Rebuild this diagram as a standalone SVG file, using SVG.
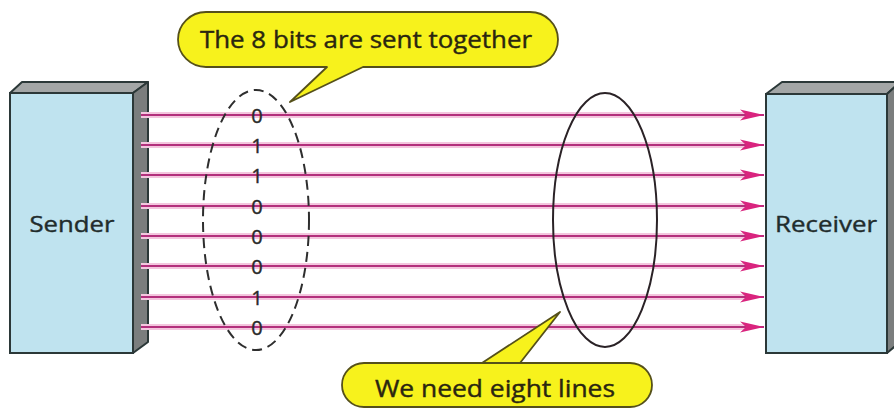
<svg xmlns="http://www.w3.org/2000/svg" width="894" height="412" viewBox="0 0 894 412">
<style>
.front{fill:#bfe3ef;stroke:#2b3838;stroke-width:2}
.top{fill:#a3a6a6;stroke:#2b3838;stroke-width:2;stroke-linejoin:round}
.side{fill:#7b7e7e;stroke:#2b3838;stroke-width:2;stroke-linejoin:round}
.lbl{font-family:"Open Sans","Liberation Sans",sans-serif;font-size:22px;fill:#1f2c2c;text-anchor:middle;stroke:#1f2c2c;stroke-width:0.4}
.glow{stroke:#f4c6de;stroke-width:6;fill:none}
.wire{stroke:#b3307c;stroke-width:2;fill:none}
.bit{font-family:"Open Sans","Liberation Sans",sans-serif;font-size:20px;fill:#2a2a2a;text-anchor:middle;dominant-baseline:central;stroke:#2a2a2a;stroke-width:0.4}
.callout{fill:#f7f21c;stroke:#55501a;stroke-width:1.8;stroke-linejoin:round}
.ctext{font-family:"Open Sans","Liberation Sans",sans-serif;font-size:23px;fill:#2a2610;text-anchor:middle;stroke:#2a2610;stroke-width:0.4}
</style>
<defs>
<marker id="arr" markerWidth="24" markerHeight="12" refX="24" refY="6" orient="auto" markerUnits="userSpaceOnUse">
<path d="M0,0.5 L24,6 L0,11.5 L6,6 Z" fill="#d9247e"/>
</marker>
</defs>
<rect width="894" height="412" fill="#ffffff"/>
<g id="sender">
<polygon class="top" points="10,93 22,82 148,82 133,93"/>
<polygon class="side" points="133,93 148,82 148,342 133,353"/>
<rect class="front" x="10" y="93" width="123" height="260"/>
<text class="lbl" x="72" y="232" textLength="85" lengthAdjust="spacingAndGlyphs">Sender</text>
</g>
<g id="receiver">
<polygon class="top" points="766,94 782,82 900,82 887,94"/>
<polygon class="side" points="887,94 900,82 900,342 887,353"/>
<rect class="front" x="766" y="94" width="121" height="259"/>
<text class="lbl" x="826" y="232" textLength="102" lengthAdjust="spacingAndGlyphs">Receiver</text>
</g>
<g id="connectors">
<g class="glows">
<line class="glow" x1="141" y1="115" x2="745" y2="115"/>
<line class="glow" x1="141" y1="145" x2="745" y2="145"/>
<line class="glow" x1="141" y1="175" x2="745" y2="175"/>
<line class="glow" x1="141" y1="206" x2="745" y2="206"/>
<line class="glow" x1="141" y1="236" x2="745" y2="236"/>
<line class="glow" x1="141" y1="266" x2="745" y2="266"/>
<line class="glow" x1="141" y1="297" x2="745" y2="297"/>
<line class="glow" x1="141" y1="327" x2="745" y2="327"/>
</g>
<line class="wire" x1="141" y1="115" x2="764" y2="115" marker-end="url(#arr)"/>
<line class="wire" x1="141" y1="145" x2="764" y2="145" marker-end="url(#arr)"/>
<line class="wire" x1="141" y1="175" x2="764" y2="175" marker-end="url(#arr)"/>
<line class="wire" x1="141" y1="206" x2="764" y2="206" marker-end="url(#arr)"/>
<line class="wire" x1="141" y1="236" x2="764" y2="236" marker-end="url(#arr)"/>
<line class="wire" x1="141" y1="266" x2="764" y2="266" marker-end="url(#arr)"/>
<line class="wire" x1="141" y1="297" x2="764" y2="297" marker-end="url(#arr)"/>
<line class="wire" x1="141" y1="327" x2="764" y2="327" marker-end="url(#arr)"/>
</g>
<g id="bits-group">
<ellipse cx="256" cy="220" rx="53" ry="130" fill="none" stroke="#2e2e2e" stroke-width="2" stroke-dasharray="10,6"/>
<text class="bit" x="257" y="115">0</text>
<text class="bit" x="257" y="145">1</text>
<text class="bit" x="257" y="175">1</text>
<text class="bit" x="257" y="206">0</text>
<text class="bit" x="257" y="236">0</text>
<text class="bit" x="257" y="266">0</text>
<text class="bit" x="257" y="297">1</text>
<text class="bit" x="257" y="327">0</text>
</g>
<g id="lines-group">
<ellipse cx="605" cy="220" rx="52" ry="127" fill="none" stroke="#2a2226" stroke-width="2"/>
</g>
<g id="callout-top">
<path class="callout" d="M206,12 L530,12 A28,27.5 0 0 1 530,67 L363,67 L290,102 L327,67 L206,67 A28,27.5 0 0 1 206,12 Z"/>
<text class="ctext" x="366" y="48" textLength="332" lengthAdjust="spacingAndGlyphs">The 8 bits are sent together</text>
</g>
<g id="callout-bottom">
<path class="callout" d="M372,363 L520,363 L560,312 L482,363 Z M520,363 L630,363 A22,22 0 0 1 630,407 L364,407 A22,22 0 0 1 364,363 L482,363 Z"/>
<text class="ctext" x="495" y="397" textLength="240" lengthAdjust="spacingAndGlyphs">We need eight lines</text>
</g>
</svg>
